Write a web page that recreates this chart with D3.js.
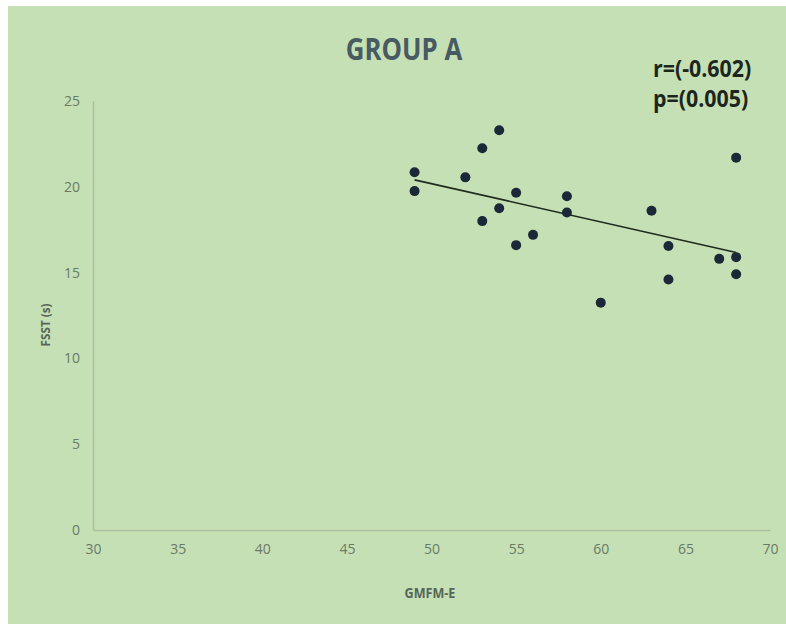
<!DOCTYPE html>
<html lang="en">
<head>
<meta charset="utf-8">
<title>Group A</title>
<script src="https://d3js.org/d3.v7.min.js"></script>
<style>
  body { margin: 0; background: #fff; }
  svg text { font-family: "Open Sans", sans-serif; }
</style>
</head>
<body>
<svg id="chart" width="786" height="624"></svg>
<script>
// data
const gmfm = [49, 49, 52, 53, 53, 54, 54, 55, 55, 56, 58, 58, 60, 63, 64, 64, 67, 68, 68, 68];
const fsst = [20.85, 19.75, 20.55, 22.25, 18.0, 23.3, 18.75, 19.65, 16.6, 17.2, 19.45, 18.5, 13.25, 18.6, 16.55, 14.6, 15.8, 15.9, 14.9, 21.7];
const xTicks = [30, 35, 40, 45, 50, 55, 60, 65, 70];
const yTicks = [0, 5, 10, 15, 20, 25];
const stats = ["r=(-0.602)", "p=(0.005)"];

const svg = d3.select("#chart");

svg.append("rect")
    .attr("x", 8).attr("y", 6)
    .attr("width", 778).attr("height", 618)
    .attr("fill", "#c6e0b5");

const x = d3.scaleLinear().domain([30, 70]).range([93, 770]);
const y = d3.scaleLinear().domain([0, 25]).range([530, 101]);

// axes
const xAxis = svg.append("g")
    .attr("transform", "translate(0," + y(0) + ")")
    .call(d3.axisBottom(x).tickValues(xTicks).tickSize(0).tickPadding(14));
const yAxis = svg.append("g")
    .attr("transform", "translate(" + x(30) + ",0)")
    .call(d3.axisLeft(y).tickValues(yTicks).tickSize(0).tickPadding(13));

[xAxis, yAxis].forEach(function(g){
    g.select(".domain").attr("stroke", "#aabfa2").attr("stroke-width", 1.5);
    g.selectAll("text").attr("fill", "#697a68").attr("font-size", 14);
});

// trend line (least squares)
const mx = d3.mean(gmfm), my = d3.mean(fsst);
let sxy = 0, sxx = 0;
gmfm.forEach(function(v, i){
    sxy += (v - mx) * (fsst[i] - my);
    sxx += (v - mx) * (v - mx);
});
const slope = sxy / sxx, icpt = my - slope * mx;
const xr = d3.extent(gmfm);

svg.append("line")
    .attr("x1", x(xr[0])).attr("y1", y(slope * xr[0] + icpt))
    .attr("x2", x(xr[1])).attr("y2", y(slope * xr[1] + icpt))
    .attr("stroke", "#1d2b1d").attr("stroke-width", 1.6);

svg.append("g").selectAll("circle")
    .data(gmfm.map(function(v, i){ return [v, fsst[i]]; }))
    .enter().append("circle")
    .attr("cx", function(d){ return x(d[0]); })
    .attr("cy", function(d){ return y(d[1]); })
    .attr("r", 5)
    .attr("fill", "#1b2838");

// titles (squeezed a bit, the original font is a narrow one)
svg.append("text")
    .attr("transform", "translate(404,60) scale(0.86,1)")
    .attr("text-anchor", "middle")
    .attr("font-size", 30).attr("font-weight", "bold")
    .attr("fill", "#485a62")
    .text("GROUP A");

svg.append("text")
    .attr("transform", "translate(430,598) scale(0.9,1)")
    .attr("text-anchor", "middle")
    .attr("font-size", 14).attr("font-weight", "bold")
    .attr("fill", "#56675a")
    .text("GMFM-E");

svg.append("text")
    .attr("transform", "translate(50,325) rotate(-90) scale(0.9,1)")
    .attr("text-anchor", "middle")
    .attr("font-size", 13).attr("font-weight", "bold")
    .attr("fill", "#56675a")
    .text("FSST (s)");

svg.append("g").selectAll("text")
    .data(stats)
    .enter().append("text")
    .attr("transform", function(d, i){ return "translate(653," + (77 + i * 30) + ") scale(0.93,1)"; })
    .attr("font-size", 23).attr("font-weight", "bold")
    .attr("fill", "#1c261c")
    .text(function(d){ return d; });
</script>
</body>
</html>
